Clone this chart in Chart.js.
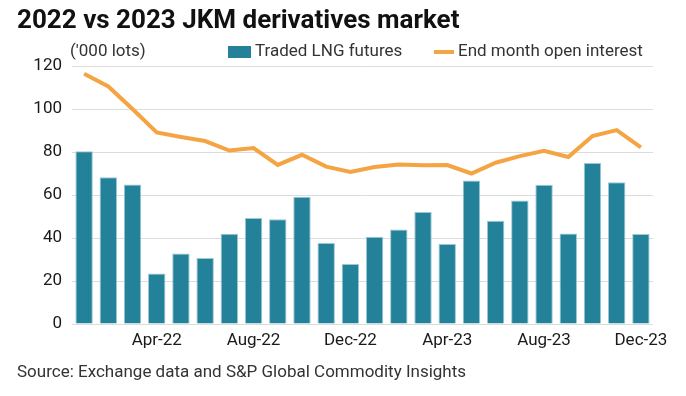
<!DOCTYPE html>
<html>
<head>
<meta charset="utf-8">
<script src="https://cdn.jsdelivr.net/npm/chart.js@4/dist/chart.umd.min.js"></script>
<style>
  html, body { margin: 0; padding: 0; background: #fff; }
  #wrap { width: 686px; height: 396px; }
</style>
</head>
<body>
<div id="wrap"><canvas id="jkm-chart" width="686" height="396"></canvas></div>
<script>
// data
const months = ['Jan-22', 'Feb-22', 'Mar-22', 'Apr-22', 'May-22', 'Jun-22', 'Jul-22', 'Aug-22', 'Sep-22', 'Oct-22', 'Nov-22', 'Dec-22',
                'Jan-23', 'Feb-23', 'Mar-23', 'Apr-23', 'May-23', 'Jun-23', 'Jul-23', 'Aug-23', 'Sep-23', 'Oct-23', 'Nov-23', 'Dec-23'];
const tradedFutures = [80.3, 68.2, 64.9, 23.5, 32.8, 30.7, 42.0, 49.3, 48.7, 59.2, 37.7, 27.9,
                       40.6, 43.9, 52.1, 37.2, 66.8, 48.0, 57.5, 64.8, 42.1, 74.9, 65.9, 41.9];
const openInterest = [116.4, 110.5, 100.0, 89.1, 87.0, 85.1, 80.7, 81.8, 74.0, 78.7, 73.2, 70.7,
                      73.0, 74.2, 73.8, 73.9, 70.0, 75.0, 78.1, 80.6, 77.7, 87.4, 90.2, 82.1];
const shownTicks = ['Apr-22', 'Aug-22', 'Dec-22', 'Apr-23', 'Aug-23', 'Dec-23'];

const teal = '#23829a';
const orange = '#f4a443';
const fontName = 'Roboto, "Noto Sans", sans-serif';

// title, legend, unit and source
const decorations = {
  id: 'decorations',
  afterDraw(chart) {
    const ctx = chart.ctx;
    ctx.save();
    ctx.textBaseline = 'middle';
    ctx.textAlign = 'left';

    ctx.fillStyle = '#111';
    ctx.font = 'bold 26px ' + fontName;
    ctx.fillText('2022 vs 2023 JKM derivatives market', 17, 21);

    ctx.font = '17px ' + fontName;
    ctx.fillStyle = '#333';
    ctx.fillText("('000 lots)", 70, 52);

    ctx.fillStyle = teal;
    ctx.fillRect(228, 46, 23, 12);
    ctx.fillStyle = '#333';
    ctx.fillText('Traded LNG futures', 255, 52);

    ctx.strokeStyle = orange;
    ctx.lineWidth = 4;
    ctx.beginPath();
    ctx.moveTo(434, 52);
    ctx.lineTo(454, 52);
    ctx.stroke();
    ctx.fillText('End month open interest', 458, 52);

    ctx.fillText('Source: Exchange data and S&P Global Commodity Insights', 17, 373);
    ctx.restore();
  }
};

const el = document.getElementById('jkm-chart');
Chart.defaults.font.family = fontName;
Chart.defaults.font.size = 17;
Chart.defaults.color = '#1a1a1a';

new Chart(el, {
  data: {
    labels: months,
    datasets: [
      {
        type: 'line',
        label: 'End month open interest',
        data: openInterest,
        borderColor: orange,
        borderWidth: 4,
        pointRadius: 0,
        tension: 0,
        order: 0
      },
      {
        type: 'bar',
        label: 'Traded LNG futures',
        data: tradedFutures,
        backgroundColor: teal,
        borderColor: '#9cc8d4',
        borderWidth: 1,
        barPercentage: 0.72,
        categoryPercentage: 1.0,
        order: 1
      }
    ]
  },
  plugins: [decorations],
  options: {
    responsive: false,
    animation: false,
    layout: { padding: { left: 28, right: 33, top: 66, bottom: 42 } },
    plugins: {
      legend: { display: false },
      tooltip: { enabled: false }
    },
    scales: {
      x: {
        offset: true,
        grid: { display: false, drawTicks: false },
        border: { display: false },
        ticks: {
          autoSkip: false,
          maxRotation: 0,
          padding: 7,
          callback: function (v, i) {
            const m = months[i];
            return shownTicks.includes(m) ? m : '';
          }
        },
        afterFit: s => { s.height = 30; }
      },
      y: {
        min: 0,
        max: 120,
        grid: { color: '#dcdcdc', drawTicks: false },
        border: { display: false },
        ticks: { stepSize: 20, padding: 10 },
        afterFit: s => { s.width = 44; }
      }
    }
  }
});
</script>
</body>
</html>
